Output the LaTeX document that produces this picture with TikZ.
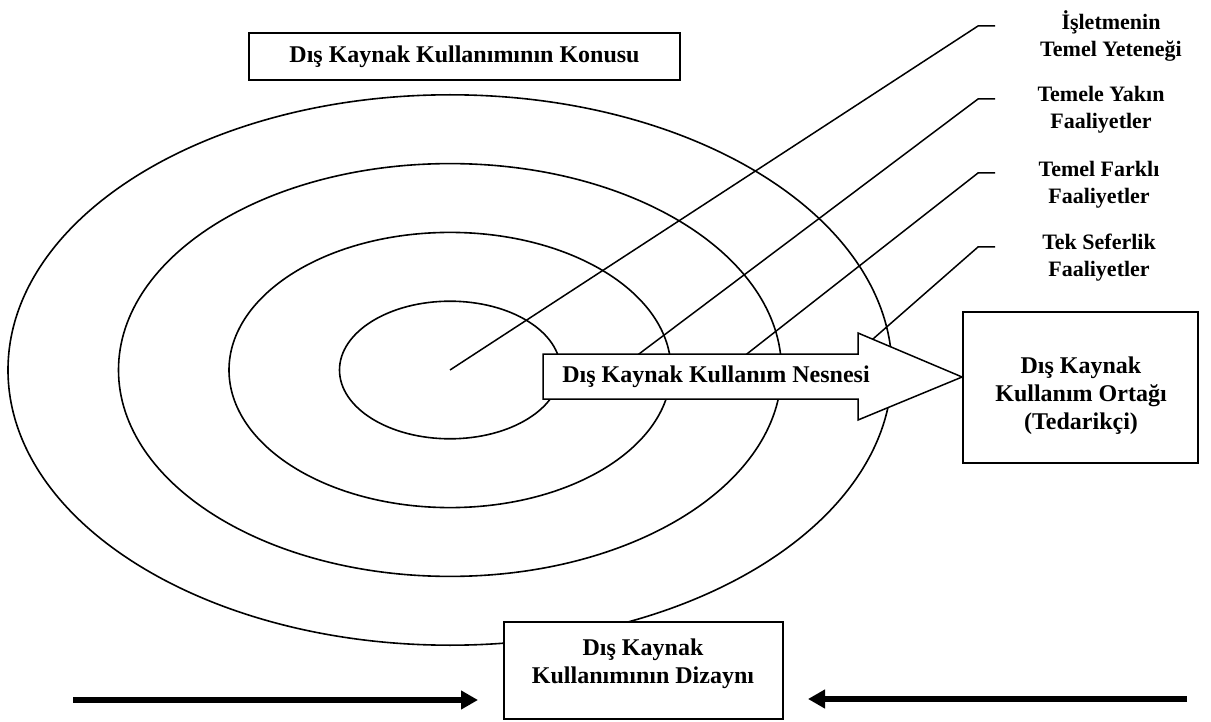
\documentclass[tikz,border=0pt]{standalone}
\usepackage{fontspec}
\setmainfont{Liberation Serif}
\usepackage{tikz}
\usetikzlibrary{calc}
\usetikzlibrary{positioning}
\usetikzlibrary{arrows.meta}

\begin{document}
\begin{tikzpicture}[x=1pt, y=-1pt, line join=miter,                          % Pixel units, y downwards
	                    ring/.style = {line width=1.6pt},
	                    leader/.style = {line width=1.5pt},
	                    box/.style = {draw, line width=1.8pt, fill=white},
	                    boxtext/.style = {align=center, font=\bfseries\fontsize{24}{28}\selectfont},
	                    lbl/.style = {align=center, font=\bfseries\fontsize{22}{27}\selectfont},
	                    bigarrow/.style = {line width=6pt, -{Triangle[length=17pt, width=18pt]}}]
	\useasboundingbox (0,0) rectangle (1211,722);
	\coordinate (O) at (450,370);
	\foreach \r in {1,...,4}
		\draw[ring] (O) ellipse [x radius={110.5pt*\r}, y radius={68.8pt*\r}];
	% leader lines
	\coordinate (s1) at (O);
	\coordinate (s2) at (611,375);
	\coordinate (s3) at (720,375);
	\coordinate (s4) at (862,348.6);
	\foreach \i/\y in {1/26, 2/99, 3/173, 4/247} {
		\coordinate (b\i) at (978,\y);
		\coordinate (e\i) at (995,\y);
	}
	\foreach \i in {1,...,4}
		\draw[leader] (s\i) -- (b\i) -- (e\i);
	% boxes
	\node[box, minimum width=235pt, minimum height=151pt] (ortak) at (1080.5,387.5) {};
	\node[boxtext] (ortaktxt) at (1081,396) {Dış Kaynak\\Kullanım Ortağı\\(Tedarikçi)};
	\node[box, boxtext, inner sep=0pt, minimum width=431pt, minimum height=47pt] (konu) at (464.5,56.5) {Dış Kaynak Kullanımının Konusu};
	\node[box, minimum width=279pt, minimum height=97pt] (dizayn) at (643.5,670.5) {};
	\node[boxtext] (dizayntxt) at (643,664) {Dış Kaynak\\Kullanımının Dizaynı};
	% block arrow
	\coordinate (tip) at (ortak.west |- O);
	\draw[line width=1.5pt, fill=white] (543,354) -- (858,354) -- (858,333) -- ($(tip)+(0,7)$)
		-- (858,420) -- (858,399) -- (543,399) -- cycle;
	\node[boxtext] (nesne) at (716,377) {Dış Kaynak Kullanım Nesnesi};
	% labels
	\node[lbl] (yetenek) at (1111,36.5) {İşletmenin\\Temel Yeteneği};
	\node[lbl] (yakin) at (1101,110) {Temele Yakın\\Faaliyetler};
	\node[lbl] (farkli) at (1099,185) {Temel Farklı\\Faaliyetler};
	\node[lbl] (tek) at (1099,258) {Tek Seferlik\\Faaliyetler};
	% design arrows
	\coordinate (la) at (73,700);
	\coordinate (lt) at (478,700);
	\coordinate (ra) at (1187,699);
	\coordinate (rt) at (808,699);
	\draw[bigarrow] (la) -- (lt);
	\draw[bigarrow] (ra) -- (rt);
\end{tikzpicture}
\end{document}
